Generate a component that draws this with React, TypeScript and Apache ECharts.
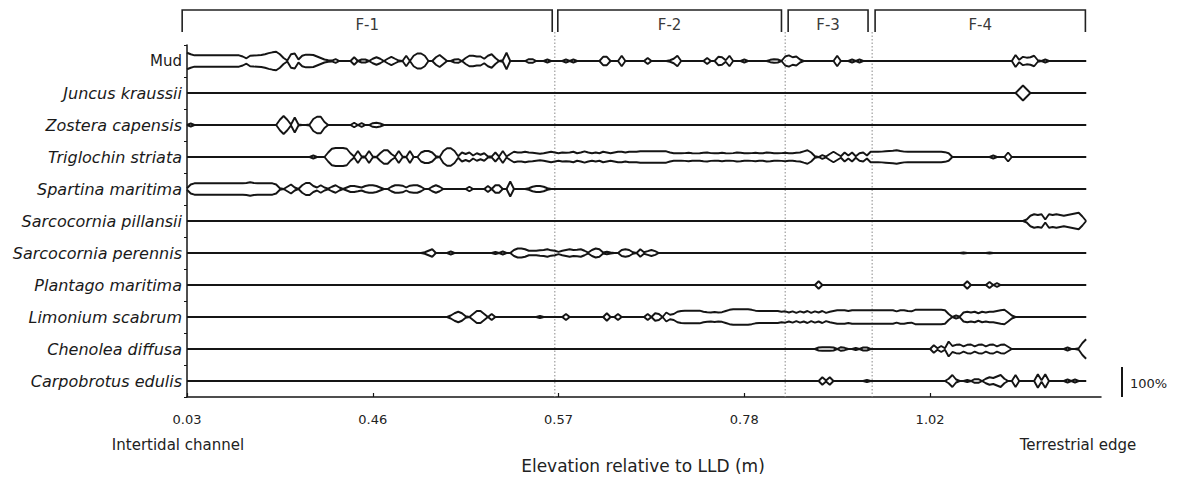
import React, { useEffect, useRef } from "react";
import * as echarts from "echarts";

// ---------- DATA ----------
const species = [
  "Mud",
  "Juncus kraussii",
  "Zostera capensis",
  "Triglochin striata",
  "Spartina maritima",
  "Sarcocornia pillansii",
  "Sarcocornia perennis",
  "Plantago maritima",
  "Limonium scabrum",
  "Chenolea diffusa",
  "Carpobrotus edulis",
];

// samples along the transect (index 0..242); percent cover as sparse segments [startSample, values]
const sampleCount = 243;
const tickSamples = [0, 50, 100, 150, 200];
const tickLabels = ["0.03", "0.46", "0.57", "0.78", "1.02"];

const zoneNames = ["F-1", "F-2", "F-3", "F-4"];
const zoneStart = [-1.3, 99.8, 161.8, 185.2];
const zoneEnd = [98.3, 160, 183.3, 241.8];
const zoneBoundaries = [99, 161, 184.4];

const mudSegs: [number, number[]][] = [
  [0, [55, 45, 38, 38, 38, 38, 38, 38, 38, 38, 38, 38, 38, 38, 38, 30, 18, 35, 37, 38, 40, 45, 52, 58, 62, 45, 20, 3, 45, 50, 10, 35, 42, 42, 40, 30, 20, 10, 5, 3, 12]],
  [45, [25]],
  [47, [10, 10]],
  [50, [15, 25, 15]],
  [54, [15, 28, 15, 3]],
  [59, [35]],
  [61, [35, 50, 50, 35]],
  [67, [25, 40, 20]],
  [72, [10, 12]],
  [75, [20, 35, 35, 30, 30, 15, 35, 45, 20]],
  [85, [5, 55]],
  [92, [12, 12]],
  [97, [10]],
  [102, [10]],
  [104, [10]],
  [112, [28, 28]],
  [117, [35]],
  [124, [20]],
  [130, [5, 15, 35]],
  [140, [20]],
  [143, [28, 25, 5, 35]],
  [150, [10]],
  [157, [8, 12, 10]],
  [161, [30, 38, 25, 30, 10]],
  [175, [35]],
  [179, [10]],
  [181, [10]],
  [223, [40, 8, 28, 22, 25, 35, 5, 0, 10]],
];
const juncusSegs: [number, number[]][] = [[224, [25, 50, 25]]];
const zosteraSegs: [number, number[]][] = [
  [1, [10]],
  [25, [35, 60, 35, 3, 50, 3]],
  [33, [3, 40, 55, 55, 20]],
  [45, [15]],
  [47, [12]],
  [50, [12, 15, 10]],
];
const triglochinSegs: [number, number[]][] = [
  [34, [10]],
  [38, [30, 55, 60, 60, 60, 55, 25, 3, 40, 3, 3, 40, 3]],
  [52, [25, 45, 45, 20, 3, 40, 3, 0, 40]],
  [63, [30, 40, 40, 30, 5, 0, 40, 58, 58, 40, 5, 30, 20, 30, 10, 25, 15, 25, 3, 3, 30, 3, 40, 3, 20]],
  [88, [35, 30, 30, 35, 30, 28, 25, 22, 25, 30, 35, 30, 25, 30, 28, 30, 35, 25, 30, 38, 30, 25, 30, 25, 35, 30, 25, 30, 35, 35, 30, 35, 35, 35, 38, 38, 38, 38, 38, 38, 38, 38, 30, 25]],
  [132, [25, 25, 26, 28, 25, 24, 25, 28, 30, 26, 25, 25, 28, 25, 24, 26, 30, 28, 25, 25, 26, 28, 25, 25, 30, 28, 25, 25, 26, 28, 25, 25, 28, 30, 38, 45, 30, 5]],
  [171, [12, 3, 20, 35, 20, 5, 30, 10, 30, 5, 25, 30, 10, 35]],
  [185, [35, 35, 36, 38, 40, 42, 45, 40, 36, 35, 35, 35, 35, 35, 35, 35, 35, 35, 35, 32, 25]],
  [217, [10]],
  [221, [30]],
];
const spartinaSegs: [number, number[]][] = [
  [0, [5, 30, 38, 38, 38, 38, 38, 38, 38, 38, 38, 38, 38, 38, 38, 38, 40, 45, 40, 38, 38, 38, 38, 38, 30, 5]],
  [27, [15, 30, 10]],
  [31, [25, 40, 40, 20, 10, 25, 10, 3, 15, 25, 10]],
  [43, [10, 20, 20, 15, 10, 20, 25, 25, 20, 10]],
  [55, [15, 25, 25, 22, 10, 22, 25, 25, 15]],
  [66, [15, 25, 15]],
  [76, [15]],
  [81, [20]],
  [83, [25, 25]],
  [87, [50]],
  [92, [5, 15, 20, 20, 15, 5]],
];
const pillansiiSegs: [number, number[]][] = [
  [226, [10, 35, 45, 40, 45, 10, 45, 40, 45, 40, 35, 40, 45, 50, 55, 30]],
];
const perennisSegs: [number, number[]][] = [
  [64, [5, 15, 25]],
  [71, [10]],
  [83, [8]],
  [85, [10]],
  [88, [20, 30, 30, 25, 15, 15, 15, 18, 20, 25, 18, 15, 8, 15, 20, 25, 20, 22, 25, 15, 3, 20, 30, 25, 3, 8, 3]],
  [117, [20, 25, 20, 5, 0, 25, 5, 12, 20, 12]],
  [209, [3]],
  [216, [3]],
];
const plantagoSegs: [number, number[]][] = [
  [170, [25]],
  [210, [25]],
  [216, [20]],
  [218, [12]],
];
const limoniumSegs: [number, number[]][] = [
  [71, [10, 25, 35, 25, 5, 0, 20, 40, 40, 20, 0, 20]],
  [95, [8]],
  [102, [20]],
  [113, [25]],
  [116, [20]],
  [124, [20]],
  [126, [25, 20, 0, 30, 15, 20, 35]],
  [133, [40, 42, 42, 42, 42, 42, 35, 32, 30, 33, 30, 32, 40, 48, 52, 52, 52, 52, 52, 48, 42, 40, 40, 40, 40, 40, 40, 35, 38, 30, 38, 28, 38, 30, 40, 28, 38, 30, 40, 28, 35, 40, 45, 45, 45, 40, 45, 45, 45, 45, 45, 45, 45, 45, 45, 45, 45, 45, 38, 45, 45, 40, 38, 48, 48, 48, 48, 48, 48, 48, 48, 45, 20]],
  [207, [10, 3, 30, 35, 30, 35, 25, 35, 30, 35, 35, 40, 45, 48, 30, 10]],
];
const chenoleaSegs: [number, number[]][] = [
  [170, [10, 12, 12, 12, 10, 0, 12, 8, 0, 0, 8, 0, 10, 10]],
  [201, [25, 5, 20, 5, 50, 20, 28, 30, 18, 28, 30, 18, 28, 30, 18, 28, 30, 18, 28, 30, 15]],
  [237, [10]],
  [240, [5, 40, 65]],
];
const carpobrotusSegs: [number, number[]][] = [
  [171, [25, 3, 25]],
  [183, [8]],
  [205, [15, 40, 10]],
  [210, [8]],
  [212, [12, 12]],
  [215, [15, 25, 20, 30, 40, 15]],
  [223, [40]],
  [229, [45, 5, 45]],
  [237, [10]],
  [239, [10]],
];

const speciesSegs = [
  mudSegs,
  juncusSegs,
  zosteraSegs,
  triglochinSegs,
  spartinaSegs,
  pillansiiSegs,
  perennisSegs,
  plantagoSegs,
  limoniumSegs,
  chenoleaSegs,
  carpobrotusSegs,
];

// ---------- helpers ----------
function expand(segs: [number, number[]][]): number[] {
  const arr = new Array(sampleCount).fill(0);
  segs.forEach(([s, vals]) => {
    vals.forEach((v, k) => {
      if (s + k < sampleCount) arr[s + k] = v;
    });
  });
  return arr;
}

const FONT = "DejaVu Sans";
const INK = "#151515";
const HALF_PER_PCT = 0.46875 / 100; // row units (1 row = 32px); 100% = 30px full width

export default function App() {
  const ref = useRef<HTMLDivElement>(null);
  useEffect(() => {
    if (!ref.current) return;
    const chart = echarts.init(ref.current, undefined, { renderer: "svg" });

    const series: any[] = [];

    // zone separators (dotted)
    series.push({
      type: "custom",
      xAxisIndex: 0,
      yAxisIndex: 1,
      silent: true,
      clip: false,
      z: 1,
      data: zoneBoundaries.map((b) => [b, 0]),
      renderItem: (params: any, api: any) => {
        const x = api.coord([api.value(0), 0])[0];
        return {
          type: "line",
          shape: { x1: x, y1: 32, x2: x, y2: 397 },
          style: { stroke: "#8a8a8a", lineWidth: 1, lineDash: [1.5, 2] },
        };
      },
    });

    // zone brackets
    series.push({
      type: "custom",
      xAxisIndex: 0,
      yAxisIndex: 1,
      silent: true,
      clip: false,
      z: 3,
      data: zoneNames.map((n, i) => [zoneStart[i], zoneEnd[i], i]),
      renderItem: (params: any, api: any) => {
        const x0 = api.coord([api.value(0), 0])[0];
        const x1 = api.coord([api.value(1), 0])[0];
        const i = api.value(2);
        return {
          type: "group",
          children: [
            {
              type: "polyline",
              shape: { points: [[x0, 32], [x0, 10], [x1, 10], [x1, 32]] },
              style: { stroke: "#222", lineWidth: 1.6, fill: null },
            },
            {
              type: "text",
              style: {
                text: zoneNames[i],
                x: (x0 + x1) / 2,
                y: 25,
                align: "center",
                verticalAlign: "middle",
                fontSize: 15,
                fontFamily: FONT,
                fill: "#3a3a3a",
              },
            },
          ],
        };
      },
    });

    // kites: upper and lower outline for each species
    speciesSegs.forEach((segs, r) => {
      const vals = expand(segs);
      const center = r + 0.5;
      [-1, 1].forEach((sign) => {
        series.push({
          type: "line",
          name: species[r] + (sign < 0 ? " upper" : " lower"),
          xAxisIndex: 0,
          yAxisIndex: 1,
          silent: true,
          symbol: "none",
          z: 2,
          lineStyle: { color: INK, width: 1.9 },
          data: vals.map((v, j) => [j, center + sign * v * HALF_PER_PCT]),
        });
      });
    });

    chart.setOption({
      animation: false,
      backgroundColor: "#ffffff",
      grid: { left: 187, right: 79, top: 45, height: 352 },
      xAxis: {
        type: "value",
        min: 0,
        max: 246,
        interval: 50,
        axisLine: { show: true, onZero: false, lineStyle: { color: INK, width: 1.5 } },
        axisTick: { show: true, inside: true, length: 4, customValues: tickSamples, lineStyle: { color: INK, width: 1.2 } },
        axisLabel: {
          customValues: tickSamples,
          formatter: (v: number) => {
            const k = tickSamples.indexOf(Math.round(v));
            return k >= 0 ? tickLabels[k] : "";
          },
          margin: 16,
          fontSize: 13,
          fontFamily: FONT,
          color: "#222",
        },
        splitLine: { show: false },
      },
      yAxis: [
        {
          type: "category",
          data: species,
          inverse: true,
          boundaryGap: true,
          axisLine: { show: true, onZero: false, lineStyle: { color: INK, width: 1.5 } },
          axisTick: { show: true, length: 3, lineStyle: { color: INK, width: 1 } },
          axisLabel: {
            margin: 5,
            fontSize: 16,
            fontFamily: FONT,
            color: "#1a1a1a",
            formatter: (v: string) => (v === "Mud" ? `{n|${v}}` : `{i|${v}}`),
            rich: {
              n: { fontStyle: "normal", fontSize: 15, fontFamily: FONT, color: "#1a1a1a" },
              i: { fontStyle: "italic", fontSize: 16, fontFamily: FONT, color: "#1a1a1a" },
            },
          },
          splitLine: { show: false },
        },
        {
          type: "value",
          min: 0,
          max: 11,
          inverse: true,
          show: false,
          splitLine: { show: false },
        },
      ],
      graphic: [
        { type: "line", shape: { x1: 1122, y1: 367, x2: 1122, y2: 397 }, style: { stroke: INK, lineWidth: 2 } },
        { type: "text", style: { text: "100%", x: 1130, y: 383, verticalAlign: "middle", fontSize: 13, fontFamily: FONT, fill: "#222" } },
        { type: "text", style: { text: "Intertidal channel", x: 178, y: 445, align: "center", verticalAlign: "middle", fontSize: 15, fontFamily: FONT, fill: "#222" } },
        { type: "text", style: { text: "Terrestrial edge", x: 1078, y: 445, align: "center", verticalAlign: "middle", fontSize: 15, fontFamily: FONT, fill: "#222" } },
        { type: "text", style: { text: "Elevation relative to LLD (m)", x: 643, y: 466, align: "center", verticalAlign: "middle", fontSize: 17, fontFamily: FONT, fill: "#222" } },
      ],
      series,
    });

    return () => chart.dispose();
  }, []);

  return (
    <div
      ref={ref}
      style={{ position: "fixed", left: 0, top: 0, width: 1180, height: 480, background: "#fff" }}
    />
  );
}
